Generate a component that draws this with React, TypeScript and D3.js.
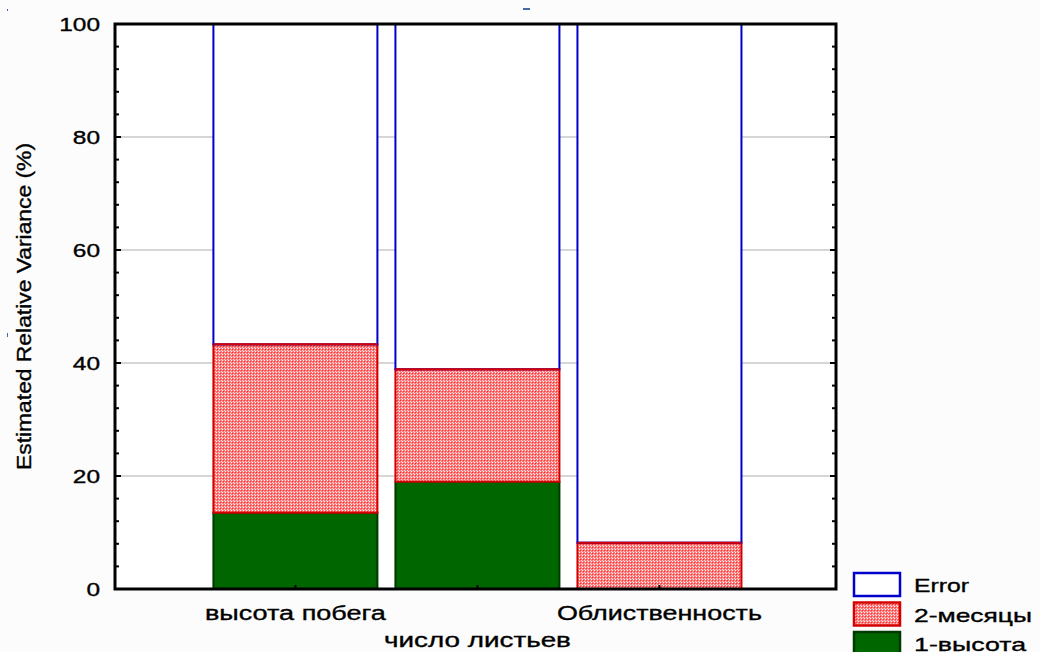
import React from "react";
import * as d3 from "d3";

// Variance components per response variable (percent of total)
const categories = ["высота побега", "число листьев", "Облиственность"];
const heightShare = [13.5, 19.0, 0]; // 1-высота
const monthShare = [29.8, 19.9, 8.2]; // 2-месяцы
const seriesKeys = ["1-высота", "2-месяцы", "Error"];
const legendKeys = ["Error", "2-месяцы", "1-высота"];
const yTicks = [0, 20, 40, 60, 80, 100];

const W = 1040;
const H = 652;
const plot = { left: 115, right: 836, top: 24, bottom: 589 };
const FONT = "Liberation Sans, Arial, sans-serif";

const rows = categories.map((c, i) => ({
  cat: c,
  "1-высота": heightShare[i],
  "2-месяцы": monthShare[i],
  Error: 100 - heightShare[i] - monthShare[i],
}));

const styles: Record<string, { fill: string; stroke: string }> = {
  "1-высота": { fill: "#006600", stroke: "#003a00" },
  "2-месяцы": { fill: "url(#redDots)", stroke: "#d40000" },
  Error: { fill: "#ffffff", stroke: "#0000cc" },
};

// label placement: staggered under each bar
const labelRow = [0, 1, 0];
const labelWidth = [181, 187, 205];
const legendTextWidth: Record<string, number> = { Error: 55, "2-месяцы": 118, "1-высота": 112 };

export default function App() {
  const x = d3
    .scaleBand<string>()
    .domain(categories)
    .range([plot.left, plot.right])
    .paddingInner(0.099)
    .paddingOuter(0.53)
    .align(0.51);
  const y = d3.scaleLinear().domain([0, 100]).range([plot.bottom, plot.top]);
  const stacked = d3.stack<any>().keys(seriesKeys)(rows);
  const minor = d3.range(0, 101, 4).filter((v) => v % 20 !== 0);
  const textInk = { fill: "#000", stroke: "#000", strokeWidth: 0.35 };

  return (
    <svg
      width={W}
      height={H}
      style={{ position: "fixed", left: 0, top: 0, background: "#fcfcfc" }}
      fontFamily={FONT}
    >
      <defs>
        <pattern id="redDots" width="3" height="3" patternUnits="userSpaceOnUse">
          <rect width="3" height="3" fill="#ff7a7a" />
          <rect x="0" y="0" width="1" height="1" fill="#ffffff" />
          <rect x="1" y="1" width="1" height="1" fill="#ff3030" />
          <rect x="2" y="2" width="1" height="1" fill="#ffd0d0" />
        </pattern>
      </defs>

      <rect
        x={plot.left}
        y={plot.top}
        width={plot.right - plot.left}
        height={plot.bottom - plot.top}
        fill="#ffffff"
      />

      {/* gridlines */}
      {yTicks
        .filter((t) => t > 0 && t < 100)
        .map((t) => (
          <line
            key={"g" + t}
            x1={plot.left}
            x2={plot.right}
            y1={y(t)}
            y2={y(t)}
            stroke="#d6d6d6"
            strokeWidth={2}
          />
        ))}

      {/* stacked bars */}
      {stacked.map((layer) =>
        layer.map((d, i) => {
          const key = layer.key;
          const x0 = x(categories[i])!;
          const y0 = y(d[1]);
          const h = y(d[0]) - y(d[1]);
          if (h <= 0.01) return null;
          return (
            <rect
              key={key + i}
              x={x0}
              y={y0}
              width={x.bandwidth()}
              height={h}
              fill={styles[key].fill}
              stroke={styles[key].stroke}
              strokeWidth={2}
            />
          );
        })
      )}
      {/* boundary between error and month segments stays red */}
      {stacked[1].map((d, i) =>
        d[1] - d[0] > 0 ? (
          <line
            key={"b" + i}
            x1={x(categories[i])!}
            x2={x(categories[i])! + x.bandwidth()}
            y1={y(d[1])}
            y2={y(d[1])}
            stroke="#d40000"
            strokeWidth={2}
          />
        ) : null
      )}

      {/* minor and major ticks on left and right axes, pointing inward */}
      {minor.map((t) => (
        <g key={"m" + t}>
          <line x1={plot.left} x2={plot.left + 4} y1={y(t)} y2={y(t)} stroke="#000" strokeWidth={2} />
          <line x1={plot.right} x2={plot.right - 4} y1={y(t)} y2={y(t)} stroke="#000" strokeWidth={2} />
        </g>
      ))}
      {yTicks.map((t) => (
        <g key={"M" + t}>
          <line x1={plot.left} x2={plot.left + 6} y1={y(t)} y2={y(t)} stroke="#000" strokeWidth={2} />
          <line x1={plot.right} x2={plot.right - 6} y1={y(t)} y2={y(t)} stroke="#000" strokeWidth={2} />
        </g>
      ))}
      {categories.map((c) => (
        <line
          key={"xt" + c}
          x1={x(c)! + x.bandwidth() / 2}
          x2={x(c)! + x.bandwidth() / 2}
          y1={plot.bottom}
          y2={plot.bottom - 4}
          stroke="#000"
          strokeWidth={2}
        />
      ))}

      {/* plot frame */}
      <rect
        x={plot.left}
        y={plot.top}
        width={plot.right - plot.left}
        height={plot.bottom - plot.top}
        fill="none"
        stroke="#000"
        strokeWidth={3}
      />

      {/* y tick labels */}
      {yTicks.map((t) => {
        const s = String(t);
        return (
          <text
            key={"yl" + t}
            x={100}
            y={y(t) + 7}
            textAnchor="end"
            fontSize={19}
            textLength={s.length * 13.6}
            lengthAdjust="spacingAndGlyphs"
            {...textInk}
          >
            {s}
          </text>
        );
      })}

      {/* category labels */}
      {categories.map((c, i) => {
        const cx = x(c)! + x.bandwidth() / 2;
        return (
          <text
            key={"xl" + c}
            x={cx - labelWidth[i] / 2}
            y={labelRow[i] === 0 ? 620 : 647}
            fontSize={20}
            textLength={labelWidth[i]}
            lengthAdjust="spacingAndGlyphs"
            {...textInk}
          >
            {c}
          </text>
        );
      })}

      {/* y axis title */}
      <text
        transform="translate(31,470) rotate(-90)"
        fontSize={20}
        textLength={327}
        lengthAdjust="spacingAndGlyphs"
        {...textInk}
      >
        Estimated Relative Variance (%)
      </text>

      {/* legend */}
      {legendKeys.map((k, i) => {
        const ly = 573 + i * 29.5;
        return (
          <g key={"lg" + k}>
            <rect
              x={854}
              y={ly}
              width={46}
              height={23}
              fill={styles[k].fill}
              stroke={styles[k].stroke}
              strokeWidth={2.5}
            />
            <text
              x={914}
              y={ly + 19}
              fontSize={19}
              textLength={legendTextWidth[k]}
              lengthAdjust="spacingAndGlyphs"
              {...textInk}
            >
              {k}
            </text>
          </g>
        );
      })}

      {/* small stray marks */}
      <rect x={523} y={8} width={7} height={2} fill="#4a68a8" />
      <rect x={7} y={9} width={1} height={2} fill="#4a68a8" />
      <rect x={7} y={333} width={1} height={4} fill="#4a68a8" />
    </svg>
  );
}
